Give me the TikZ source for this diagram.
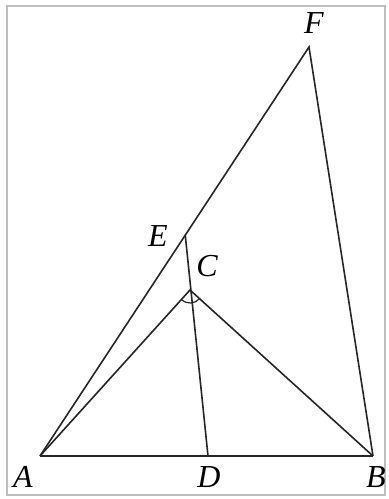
\documentclass[tikz,border=0pt]{standalone}
\usepackage{fontspec}
\setmainfont{Liberation Serif}
\usetikzlibrary{calc}
\begin{document}
\begin{tikzpicture}[x=1pt,y=-1pt,
  seg/.style={line width=1.6pt,draw=black!85},
  lbl/.style={font=\fontsize{32}{32}\selectfont\itshape,inner sep=0pt}]
\useasboundingbox (0,0) rectangle (389,499);
\draw[black!25,line width=1.6pt] (7,6) rectangle (385,495);
\coordinate (A) at (40,456);
\coordinate (B) at (373,456);
\coordinate (D) at (208,456);
\coordinate (F) at (309,47);
\coordinate (E) at ($(A)!0.54!(F)$);
\coordinate (C) at (190,290);
\draw[seg] (A) -- (B);
\draw[seg] (A) -- (F) -- (B);
\draw[seg] (A) -- (C) -- (B);
\draw[seg] (E) -- (D);
\draw[seg,line width=1.2pt] ($(C)!13pt!(A)$) arc[start angle=132.1,end angle=42.2,radius=13];
\node[lbl] (lA) at (23,477) {A};
\node[lbl] (lD) at (209,477) {D};
\node[lbl] (lB) at (376,477) {B};
\node[lbl] (lF) at (314,23) {F};
\node[lbl] (lE) at (158,236) {E};
\node[lbl] (lC) at (207,266) {C};
\end{tikzpicture}
\end{document}
